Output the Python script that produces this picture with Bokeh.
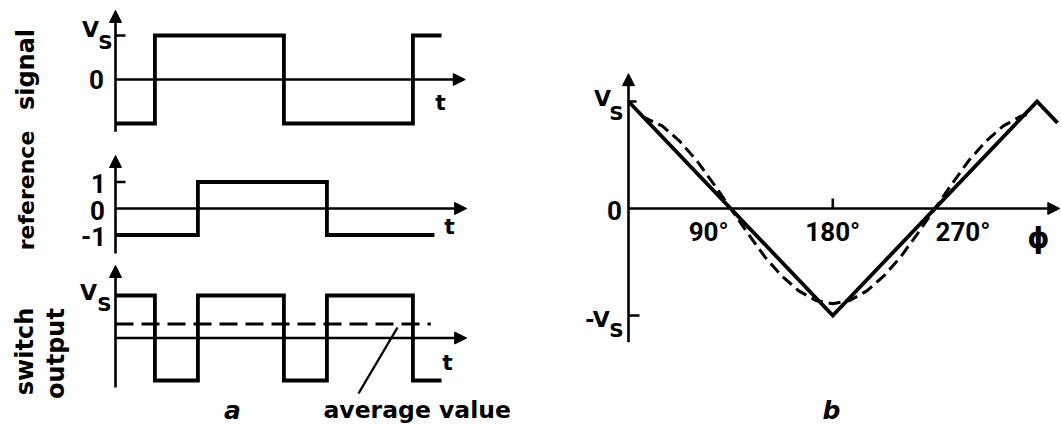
import math
from bokeh.plotting import figure
from bokeh.layouts import row, column
from bokeh.models import Arrow, NormalHead, Range1d
from bokeh.core.properties import value
from bokeh.embed import file_html
from bokeh.resources import INLINE

# ---------------- data ----------------
# panel a: time measured in degrees of the reference period
signal_edges = [0, 55, 235, 415, 455]
signal_levels = [-1, 1, -1, 1]
reference_edges = [0, 115, 295, 445]
reference_levels = [-1, 1, -1]
switch_edges = [0, 55, 115, 235, 295, 415, 455]
switch_levels = [1, -1, 1, -1, 1, -1]
average_value = 0.33
average_span = [0, 440]

signal_ticks = [1, 0]
signal_tick_text = ["V", "0"]
signal_tick_sub = ["S", ""]
reference_ticks = [1, 0, -1]
reference_tick_text = ["1", "0", "-1"]
switch_ticks = [1]
switch_tick_text = ["V"]
switch_tick_sub = ["S"]

# panel b: mean switch output against phase difference
phase_square = [0, 180, 360, 378]
output_square = [1, -1, 1, 0.8]
phase_sine = [12, 30, 45, 60, 75, 90, 105, 120, 135, 150, 165, 180,
              195, 210, 225, 240, 255, 270, 285, 300, 315, 330, 345, 352]
output_sine = [0.86, 0.77, 0.63, 0.45, 0.23, 0.0, -0.23, -0.45, -0.63, -0.77, -0.86, -0.89,
               -0.86, -0.77, -0.63, -0.45, -0.23, 0.0, 0.23, 0.45, 0.63, 0.77, 0.86, 0.88]
phase_ticks = [90, 180, 270]
phase_tick_text = ["90°", "180°", "270°"]
output_ticks = [1, 0, -1]
output_tick_text = ["V", "0", "-V"]
output_tick_sub = ["S", "", "S"]

# ---------------- styling ----------------
INK = "black"
LETTER_FONT = value("DejaVu Sans")
DIGIT_FONT = value("Roboto")
TRACE_W = 3.8
AXIS_W = 2.6

SCALE = {}  # figure id -> (x pixels per unit, y pixels per unit)


def panel(width, height, x_origin_px, x_ppu, y_origin_px, y_ppu):
    """Figure whose data origin sits at the given pixel, with pixels-per-unit scales."""
    xr = Range1d(-x_origin_px / x_ppu, (width - x_origin_px) / x_ppu)
    yr = Range1d(-(height - y_origin_px) / y_ppu, y_origin_px / y_ppu)
    p = figure(width=width, height=height, x_range=xr, y_range=yr,
               x_axis_type=None, y_axis_type=None, toolbar_location=None,
               output_backend="svg", min_border=0, outline_line_color=None,
               background_fill_color="white", border_fill_color="white")
    SCALE[p.id] = (x_ppu, y_ppu)
    return p


def axes(p, x_end, y_bottom, y_top):
    head = dict(size=12, fill_color=INK, line_color=INK, line_width=1)
    p.add_layout(Arrow(x_start=0, y_start=0, x_end=x_end, y_end=0,
                       line_width=AXIS_W, line_color=INK, end=NormalHead(**head)))
    p.add_layout(Arrow(x_start=0, y_start=y_bottom, x_end=0, y_end=y_top,
                       line_width=AXIS_W, line_color=INK, end=NormalHead(**head)))


def steps(edges, levels):
    xs, ys = [], []
    for i, lv in enumerate(levels):
        xs += [edges[i], edges[i + 1]]
        ys += [lv, lv]
    return xs, ys


def txt(p, x, y, s, font, size, style="bold", align="center", angle=0.0):
    p.text(x=[x], y=[y], text=[s], text_font=font, text_font_size=f"{size}px",
           text_font_style=style, text_align=align, text_baseline="middle",
           text_color=INK, angle=angle)


def sub_label(p, x, y, main, sub, main_dx, main_dy, sub_dx, sub_dy, size=22):
    """Letter with a lowered subscript; offsets in pixels (dy positive = down)."""
    xppu, yppu = SCALE[p.id]
    txt(p, x + main_dx / xppu, y - main_dy / yppu, main, LETTER_FONT, size)
    if sub:
        txt(p, x + sub_dx / xppu, y - sub_dy / yppu, sub, LETTER_FONT, size - 2)


def hline_tick(p, y, length_px):
    xppu, _ = SCALE[p.id]
    p.line([0, length_px / xppu], [y, y], line_color=INK, line_width=AXIS_W)


# ---------------- left labels ----------------
LBL_W = 72
labels = figure(width=LBL_W, height=425, x_range=Range1d(0, LBL_W), y_range=Range1d(0, 425),
                x_axis_type=None, y_axis_type=None, toolbar_location=None,
                output_backend="svg", min_border=0, outline_line_color=None,
                background_fill_color="white", border_fill_color="white")
for s, cx, cy, fs in [("signal", 25, 69, 24), ("reference", 26, 190, 22),
                      ("switch", 24, 351, 24), ("output", 55, 353, 24)]:
    txt(labels, cx, 425 - cy, s, LETTER_FONT, fs, angle=math.pi / 2)

# ---------------- panel a ----------------
SPLIT = 520          # pixel column where panel b begins
T_PPU = 0.7167
AX_X = 115 - LBL_W
LEFT_W = SPLIT - LBL_W

sig = panel(LEFT_W, 133, AX_X, T_PPU, 79, 44)
axes(sig, 488, -1.19, 1.57)
hline_tick(sig, 1, 10)
xs, ys = steps(signal_edges, signal_levels)
sig.line(xs, ys, line_color=INK, line_width=TRACE_W, line_join="miter")
sub_label(sig, 0, signal_ticks[0], signal_tick_text[0], signal_tick_sub[0], -25, -6, -10, 6)
txt(sig, -19 / T_PPU, signal_ticks[1], signal_tick_text[1], DIGIT_FONT, 26)
txt(sig, 325 / T_PPU, -23 / 44, "t", LETTER_FONT, 22)

ref = panel(LEFT_W, 125, AX_X, T_PPU, 75, 26.5)
axes(ref, 490, -1.7, 2.0)
hline_tick(ref, 1, 10)
xs, ys = steps(reference_edges, reference_levels)
ref.line(xs, ys, line_color=INK, line_width=TRACE_W, line_join="miter")
for v, s, dx in zip(reference_ticks, reference_tick_text, [-17, -18, -22]):
    txt(ref, dx / T_PPU, v - 1.5 / 26.5, s, DIGIT_FONT, 26)
txt(ref, 334 / T_PPU, -18 / 26.5, "t", LETTER_FONT, 22)

sw = panel(LEFT_W, 167, AX_X, T_PPU, 79.5, 42.5)
axes(sw, 490, -1.165, 1.706)
xs, ys = steps(switch_edges, switch_levels)
sw.line(xs, ys, line_color=INK, line_width=TRACE_W, line_join="miter")
sw.line(average_span, [average_value, average_value], line_color=INK,
        line_width=3, line_dash="18 8")
sub_label(sw, 0, switch_ticks[0], switch_tick_text[0], switch_tick_sub[0], -27, -3, -11, 8)
txt(sw, 332 / T_PPU, -24 / 42.5, "t", LETTER_FONT, 22)
sw.line([393.5, 339], [0.247, -1.306], line_color=INK, line_width=2.4)
txt(sw, 208 / T_PPU, -72 / 42.5, "average value", LETTER_FONT, 23.5, align="left")
txt(sw, 117 / T_PPU, -72 / 42.5, "a", LETTER_FONT, 25, style="bold italic")

# ---------------- panel b ----------------
P_PPU = 1.135
V_PPU = 107
ph = panel(1061 - SPLIT, 425, 628 - SPLIT, P_PPU, 208, V_PPU)
axes(ph, 380, -1.25, 1.26)
hline_tick(ph, 1, 8)
hline_tick(ph, -1, 11)
ph.line([180, 180], [0, 10 / V_PPU], line_color=INK, line_width=AXIS_W)
ph.line(phase_square, output_square, line_color=INK, line_width=TRACE_W, line_join="miter")
ph.line(phase_sine, output_sine, line_color=INK, line_width=3, line_dash="12 6")

sub_label(ph, 0, output_ticks[0], output_tick_text[0], output_tick_sub[0], -26, -3, -12, 11)
txt(ph, -14 / P_PPU, output_ticks[1] - 2 / V_PPU, output_tick_text[1], DIGIT_FONT, 26)
sub_label(ph, 0, output_ticks[2], output_tick_text[2], output_tick_sub[2], -31, 4, -12, 14)
for v, s, dx in zip(phase_ticks, phase_tick_text, [-22, 0, 28]):
    txt(ph, v + dx / P_PPU, -23 / V_PPU, s, DIGIT_FONT, 26)
txt(ph, 410 / P_PPU, -30 / V_PPU, "ϕ", LETTER_FONT, 28)
txt(ph, 203 / P_PPU, -202 / V_PPU, "b", LETTER_FONT, 25, style="bold italic")

layout = row(labels, column(sig, ref, sw, spacing=0), ph, spacing=0)
open("out.html", "w").write(file_html(layout, INLINE))
